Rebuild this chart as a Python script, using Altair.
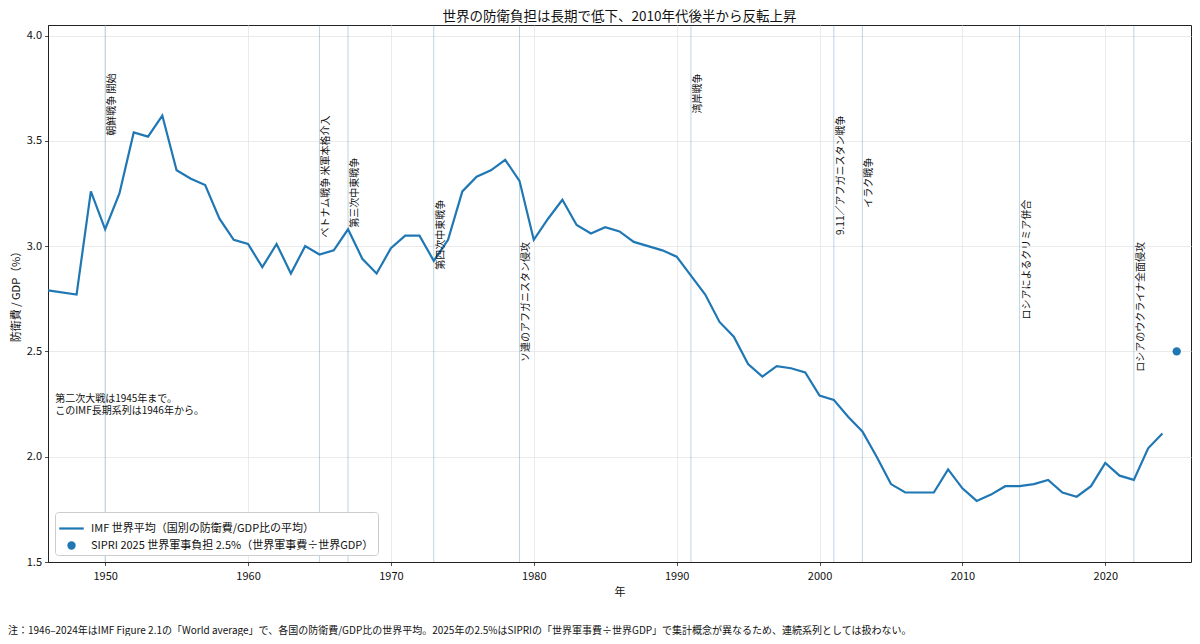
import altair as alt
import pandas as pd

FONT = "Noto Sans CJK JP"
BLUE = "#1f77b4"

# IMF Figure 2.1 world average, defence spending / GDP (%)
years = [1946, 1948, 1949, 1950, 1951, 1952, 1953, 1954, 1955, 1956, 1957, 1958, 1959,
         1960, 1961, 1962, 1963, 1964, 1965, 1966, 1967, 1968, 1969,
         1970, 1971, 1972, 1973, 1974, 1975, 1976, 1977, 1978, 1979,
         1980, 1981, 1982, 1983, 1984, 1985, 1986, 1987, 1988, 1989,
         1990, 1991, 1992, 1993, 1994, 1995, 1996, 1997, 1998, 1999,
         2000, 2001, 2002, 2003, 2004, 2005, 2006, 2007, 2008, 2009,
         2010, 2011, 2012, 2013, 2014, 2015, 2016, 2017, 2018, 2019,
         2020, 2021, 2022, 2023, 2024]
values = [2.79, 2.77, 3.26, 3.08, 3.25, 3.54, 3.52, 3.62, 3.36, 3.32, 3.29, 3.13, 3.03,
          3.01, 2.90, 3.01, 2.87, 3.00, 2.96, 2.98, 3.08, 2.94, 2.87,
          2.99, 3.05, 3.05, 2.93, 3.03, 3.26, 3.33, 3.36, 3.41, 3.31,
          3.03, 3.13, 3.22, 3.10, 3.06, 3.09, 3.07, 3.02, 3.00, 2.98,
          2.95, 2.86, 2.77, 2.64, 2.57, 2.44, 2.38, 2.43, 2.42, 2.40,
          2.29, 2.27, 2.19, 2.12, 2.00, 1.87, 1.83, 1.83, 1.83, 1.94,
          1.85, 1.79, 1.82, 1.86, 1.86, 1.87, 1.89, 1.83, 1.81, 1.86,
          1.97, 1.91, 1.89, 2.04, 2.11]

# SIPRI 2025 world military burden
sipri_year = [2025]
sipri_value = [2.5]

event_years = [1950, 1965, 1967, 1973, 1979, 1991, 2001, 2003, 2014, 2022]
event_labels = ["朝鮮戦争 開始", "ベトナム戦争 米軍本格介入", "第三次中東戦争", "第四次中東戦争",
                "ソ連のアフガニスタン侵攻", "湾岸戦争", "9.11／アフガニスタン戦争", "イラク戦争",
                "ロシアによるクリミア併合", "ロシアのウクライナ全面侵攻"]

imf_name = "IMF 世界平均（国別の防衛費/GDP比の平均）"
sipri_name = "SIPRI 2025 世界軍事負担 2.5%（世界軍事費÷世界GDP）"
series_names = [imf_name, sipri_name]

title = "世界の防衛負担は長期で低下、2010年代後半から反転上昇"
ww2_note = "第二次大戦は1945年まで。\nこのIMF長期系列は1946年から。"
footnote = ("注：1946–2024年はIMF Figure 2.1の「World average」で、各国の防衛費/GDP比の世界平均。"
            "2025年の2.5%はSIPRIの「世界軍事費÷世界GDP」で集計概念が異なるため、連続系列としては扱わない。")

imf = pd.DataFrame({"year": years, "value": values, "series": imf_name})
sipri = pd.DataFrame({"year": sipri_year, "value": sipri_value, "series": sipri_name})
events = pd.DataFrame({"year": event_years, "label": event_labels})
# labels staggered over five heights so they do not collide
events["level"] = [3.82 - 0.2 * (i % 5) for i in range(len(events))]

x_scale = alt.Scale(domain=[1946, 2026], nice=False, zero=False)
y_scale = alt.Scale(domain=[1.5, 4.05], nice=False, zero=False)
x_axis = alt.Axis(title="年", values=list(range(1950, 2030, 10)), format="d")
y_axis = alt.Axis(title="防衛費 / GDP（%）", values=[1.5, 2.0, 2.5, 3.0, 3.5, 4.0], format=".1f")

# legend: a thin bar stands for the line series, a dot for the SIPRI point
line_symbol = "M-1,-0.09H1V0.09H-1Z"
legend = alt.Legend(
    title=None, orient="bottom-left", offset=7, padding=4, rowPadding=5,
    strokeColor="#cccccc", fillColor="white", cornerRadius=3,
    labelFont=FONT, labelFontSize=11, labelColor="#111", labelLimit=600, labelOffset=7,
    symbolOpacity=1, symbolStrokeWidth=0,
)

event_rules = alt.Chart(events).mark_rule(color=BLUE, opacity=0.3, strokeWidth=1).encode(
    x=alt.X("year:Q", scale=x_scale, axis=x_axis)
)

event_text = alt.Chart(events).mark_text(
    angle=270, align="right", baseline="top", xOffset=2, font=FONT, fontSize=10, color="#111"
).encode(
    x=alt.X("year:Q", scale=x_scale),
    y=alt.Y("level:Q", scale=y_scale),
    text="label:N",
)

line = alt.Chart(imf).mark_line(strokeWidth=2.2, color=BLUE).encode(
    x=alt.X("year:Q", scale=x_scale, axis=x_axis),
    y=alt.Y("value:Q", scale=y_scale, axis=y_axis),
)

point = alt.Chart(sipri).mark_point(filled=True, opacity=1).encode(
    x=alt.X("year:Q", scale=x_scale),
    y=alt.Y("value:Q", scale=y_scale),
    color=alt.Color("series:N", scale=alt.Scale(domain=series_names, range=[BLUE, BLUE]), legend=legend),
    shape=alt.Shape("series:N", scale=alt.Scale(domain=series_names, range=[line_symbol, "circle"]), legend=legend),
    size=alt.Size("series:N", scale=alt.Scale(domain=series_names, range=[600, 70]), legend=legend),
)

note = alt.Chart(pd.DataFrame({"t": [ww2_note]})).mark_text(
    align="left", baseline="top", lineBreak="\n", lineHeight=12, font=FONT, fontSize=10, color="#111"
).encode(
    x=alt.datum(1946.5, scale=x_scale),
    y=alt.datum(2.3, scale=y_scale),
    text="t:N",
)

foot = alt.Chart(pd.DataFrame({"t": [footnote]})).mark_text(
    align="left", baseline="middle", font=FONT, fontSize=10, color="#111"
).encode(
    x=alt.value(-40),
    y=alt.value(606),
    text="t:N",
)

chart = (
    alt.layer(event_rules, line, point, event_text, note, foot)
    .properties(
        width=1143,
        height=537,
        autosize=alt.AutoSizeParams(type="none"),
        padding={"left": 40, "top": 17, "right": 1, "bottom": 74},
        title=alt.TitleParams(title, font=FONT, fontSize=13.5, fontWeight="normal",
                              color="#111", offset=1, anchor="middle"),
    )
    .configure_view(stroke="#222", strokeWidth=1)
    .configure_axis(
        labelFont=FONT, titleFont=FONT, labelFontSize=11, titleFontSize=11,
        labelColor="#111", titleColor="#111", titleFontWeight="normal",
        tickColor="#222", tickSize=3.5, tickWidth=0.8,
        domainColor="#222", domainWidth=1,
        gridColor="#e6e6e6", gridWidth=0.8,
    )
    .configure_axisX(labelPadding=5, titlePadding=5)
    .configure_axisY(labelPadding=3, titlePadding=5)
)

chart.save("out.html", embed_options={"renderer": "svg", "actions": False})
